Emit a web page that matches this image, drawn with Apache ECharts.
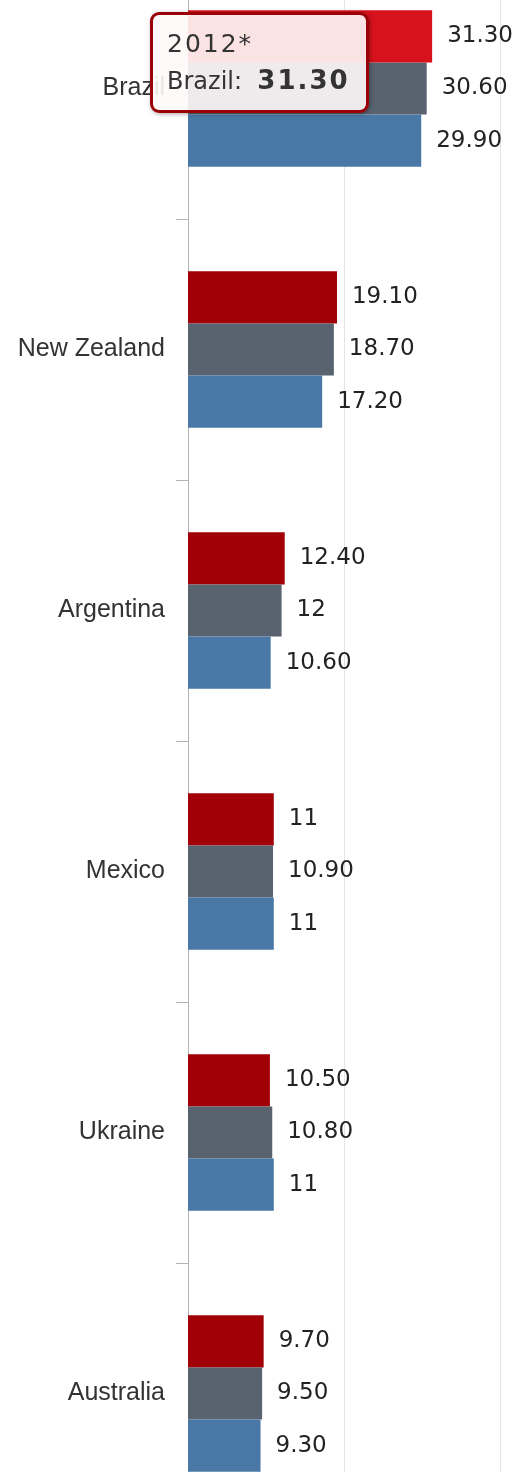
<!DOCTYPE html>
<html>
<head>
<meta charset="utf-8">
<script src="https://cdn.jsdelivr.net/npm/echarts@6/dist/echarts.min.js"></script>
<style>
  html, body { margin: 0; padding: 0; background: #ffffff; }
  #chart { width: 520px; height: 1472px; }
</style>
</head>
<body>
<div id="chart"></div>
<script>
// Countries, top to bottom
const countries = ['Brazil', 'New Zealand', 'Argentina', 'Mexico', 'Ukraine', 'Australia'];
// Series names (first one is the year shown in the tooltip)
const seriesNames = ['2012*', '2011', '2010'];
// Values per series, in country order
const values2012 = [31.3, 19.1, 12.4, 11, 10.5, 9.7];
const values2011 = [30.6, 18.7, 12, 10.9, 10.8, 9.5];
const values2010 = [29.9, 17.2, 10.6, 11, 11, 9.3];
// Value axis ticks
const xTicks = [0, 20, 40];

const seriesColors = ['#a00006', '#59626f', '#4a78a6'];
const seriesValues = [values2012, values2011, values2010];

function fmt(v) {
  return Number.isInteger(v) ? String(v) : v.toFixed(2);
}

const chart = echarts.init(document.getElementById('chart'), null, { renderer: 'canvas' });

const option = {
  animation: false,
  backgroundColor: '#ffffff',
  grid: {
    left: 188,
    right: 20,
    top: -42,
    bottom: -52,
    containLabel: false,
    outerBoundsMode: 'none'
  },
  xAxis: {
    type: 'value',
    min: xTicks[0],
    max: xTicks[xTicks.length - 1],
    interval: xTicks[1] - xTicks[0],
    axisLine: { show: false },
    axisTick: { show: false },
    axisLabel: { show: false },
    splitLine: { show: true, lineStyle: { color: '#e4e4e4', width: 1 } }
  },
  yAxis: {
    type: 'category',
    data: countries,
    inverse: true,
    axisLine: { show: true, lineStyle: { color: '#b4b4b4', width: 1 } },
    axisTick: { show: true, length: 12, lineStyle: { color: '#b4b4b4', width: 1 } },
    axisLabel: {
      margin: 23,
      color: '#333333',
      fontFamily: '"Liberation Sans", Arial, sans-serif',
      fontSize: 25
    },
    splitLine: { show: false }
  },
  tooltip: {
    trigger: 'item',
    triggerOn: 'none',
    alwaysShowContent: true,
    transitionDuration: 0,
    position: [150, 12],
    backgroundColor: 'rgba(255,250,250,0.9)',
    borderColor: '#9a0008',
    borderWidth: 3,
    borderRadius: 9,
    padding: [10, 16, 10, 14],
    extraCssText: 'box-shadow: 1px 1px 4px rgba(0,0,0,0.35);',
    formatter: function (p) {
      return '<div style="font-family:\'DejaVu Sans\',Verdana,sans-serif;color:#333;line-height:37px;white-space:nowrap;">' +
        '<div style="font-size:25px;letter-spacing:2px;">' + p.seriesName + '</div>' +
        '<div style="font-size:24px;">' + p.name + ':&nbsp;&nbsp;' +
        '<b style="font-size:26px;letter-spacing:2px;">' + fmt(p.value) + '</b></div>' +
        '</div>';
    }
  },
  series: seriesNames.map(function (name, i) {
    return {
      name: name,
      type: 'bar',
      data: seriesValues[i],
      barGap: '0%',
      barCategoryGap: '40%',
      itemStyle: { color: seriesColors[i] },
      emphasis: {
        focus: 'none',
        itemStyle: { color: i === 0 ? '#d8121c' : seriesColors[i] }
      },
      label: {
        show: true,
        position: 'right',
        distance: 15,
        color: '#222222',
        fontFamily: '"DejaVu Sans", Verdana, sans-serif',
        fontSize: 23,
        formatter: function (p) { return fmt(p.value); }
      }
    };
  })
};

chart.setOption(option);
chart.dispatchAction({ type: 'highlight', seriesIndex: 0, dataIndex: 0 });
chart.dispatchAction({ type: 'showTip', seriesIndex: 0, dataIndex: 0 });
</script>
</body>
</html>
